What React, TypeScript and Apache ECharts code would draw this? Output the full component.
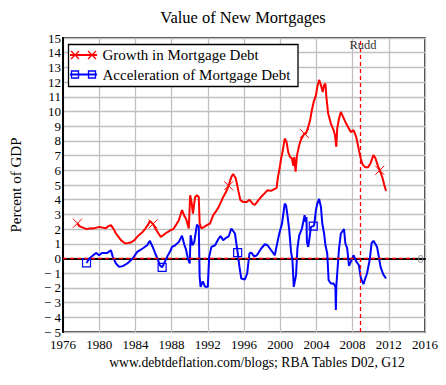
import React, { useEffect, useRef } from "react";
import * as echarts from "echarts";

const TITLE = "Value of New Mortgages";
const SOURCE = "www.debtdeflation.com/blogs; RBA Tables D02, G12";
const Y_NAME = "Percent of GDP";
const GROWTH_NAME = "Growth in Mortgage Debt";
const ACCEL_NAME = "Acceleration of Mortgage Debt";
const EVENT_LABEL = "Rudd";
const EVENT_YEAR = 2008.8;
const ZERO_LABEL = "0";
const ZERO_LINE_END = 2014.9;

const X_MIN = 1976;
const X_MAX = 2016;
const X_STEP = 4;
const Y_MIN = -5;
const Y_MAX = 15;
const Y_STEP = 1;

// [year, percent of GDP]
const growthData: [number, number][] = [
  [1977.6, 2.4], [1977.8, 2.2], [1978.2, 2.1], [1978.6, 2.0], [1979.0, 2.05], [1979.3, 2.04],
  [1979.7, 2.1], [1980.0, 2.15], [1980.4, 2.1], [1980.7, 2.05], [1981.0, 2.2], [1981.3, 2.27],
  [1981.6, 2.0], [1981.85, 1.7], [1982.1, 1.5], [1982.4, 1.25], [1982.7, 1.1], [1982.9, 1.02],
  [1983.2, 1.05], [1983.5, 1.09], [1983.9, 1.25], [1984.2, 1.47], [1984.5, 1.65], [1984.8, 1.81],
  [1985.1, 2.04], [1985.4, 2.3], [1985.6, 2.55], [1985.95, 2.35], [1986.2, 2.04], [1986.5, 1.75],
  [1986.8, 1.47], [1987.1, 1.6], [1987.3, 1.7], [1987.6, 1.81], [1987.9, 1.93], [1988.2, 2.0],
  [1988.5, 2.3], [1988.8, 2.6], [1989.15, 3.3], [1989.4, 2.9], [1989.6, 2.7], [1989.9, 2.04],
  [1990.05, 4.3], [1990.2, 3.85], [1990.36, 3.06], [1990.6, 4.19], [1990.8, 4.3], [1991.0, 4.19],
  [1991.1, 2.38], [1991.3, 2.04], [1991.6, 2.15], [1991.9, 2.27], [1992.25, 2.38], [1992.6, 2.95],
  [1992.9, 3.2], [1993.2, 3.5], [1993.5, 3.9], [1993.7, 4.19], [1994.0, 4.5], [1994.3, 4.95],
  [1994.6, 5.55], [1994.8, 5.75], [1995.1, 5.44], [1995.4, 4.53], [1995.6, 3.97], [1995.9, 3.85],
  [1996.3, 3.85], [1996.6, 4.0], [1997.0, 3.7], [1997.2, 3.65], [1997.6, 3.97], [1997.9, 4.2],
  [1998.3, 4.45], [1998.6, 4.65], [1999.0, 4.6], [1999.3, 4.7], [1999.6, 4.8], [1999.75, 5.55],
  [1999.9, 6.0], [2000.1, 6.8], [2000.3, 7.4], [2000.5, 8.16], [2000.7, 7.93], [2000.9, 7.2],
  [2001.1, 6.9], [2001.3, 6.8], [2001.45, 6.3], [2001.55, 6.9], [2001.7, 5.9], [2001.85, 7.0],
  [2002.1, 7.7], [2002.3, 8.1], [2002.5, 8.3], [2002.67, 8.5], [2002.85, 8.5], [2003.1, 8.95],
  [2003.3, 9.4], [2003.5, 10.1], [2003.7, 10.65], [2003.95, 11.1], [2004.1, 11.67], [2004.3, 12.15],
  [2004.45, 11.9], [2004.7, 11.33], [2004.85, 11.8], [2005.0, 11.9], [2005.1, 11.0], [2005.3, 9.86],
  [2005.6, 9.18], [2005.9, 8.73], [2006.05, 8.4], [2006.2, 7.6], [2006.3, 8.84], [2006.5, 9.52],
  [2006.7, 9.97], [2006.9, 9.7], [2007.2, 9.29], [2007.5, 8.95], [2007.8, 8.6], [2008.1, 8.73],
  [2008.4, 8.27], [2008.7, 7.37], [2008.9, 6.8], [2009.1, 6.4], [2009.4, 6.2], [2009.7, 6.2],
  [2010.0, 6.5], [2010.3, 7.03], [2010.5, 6.85], [2010.8, 6.3], [2011.0, 6.0], [2011.3, 5.5],
  [2011.5, 5.0], [2011.7, 4.6],
];

const accelData: [number, number][] = [
  [1978.6, -0.3], [1978.9, 0.0], [1979.3, 0.2], [1979.65, 0.38], [1980.0, 0.22], [1980.3, 0.38],
  [1980.9, 0.38], [1981.3, 0.56], [1981.5, 0.11], [1981.85, -0.34], [1982.2, -0.57], [1982.6, -0.52],
  [1983.1, -0.34], [1983.7, 0.0], [1984.2, 0.45], [1984.8, 0.68], [1985.3, 0.9], [1985.6, 1.2],
  [1985.9, 0.8], [1986.2, 0.34], [1986.5, -0.11], [1986.7, -0.46], [1986.95, -0.6], [1987.2, -0.3],
  [1987.5, 0.11], [1987.9, 0.56], [1988.05, 0.79], [1988.4, 0.9], [1988.8, 1.13], [1989.15, 1.55],
  [1989.4, 0.95], [1989.6, 0.6], [1989.8, 0.0], [1990.0, -0.34], [1990.1, 1.58], [1990.3, 0.9],
  [1990.5, 1.1], [1990.8, 2.3], [1991.0, 2.2], [1991.1, -1.25], [1991.2, -1.93], [1991.45, -1.55],
  [1991.7, -1.93], [1992.0, -1.93], [1992.15, 0.11], [1992.4, 0.79], [1992.8, 0.9], [1993.2, 1.36],
  [1993.4, 1.52], [1993.7, 1.25], [1994.0, 1.4], [1994.3, 1.5], [1994.6, 2.04], [1995.0, 1.7],
  [1995.3, 0.4], [1995.5, -0.57], [1995.7, -1.36], [1996.1, -1.43], [1996.35, -1.02], [1996.6, 0.34],
  [1996.8, 0.4], [1997.1, 0.16], [1997.4, 0.2], [1997.9, 0.68], [1998.3, 0.97], [1998.6, 0.9],
  [1999.0, 0.56], [1999.4, 0.22], [1999.7, 1.13], [1999.9, 1.7], [2000.2, 2.38], [2000.5, 3.74],
  [2000.65, 3.6], [2000.8, 2.95], [2001.0, 1.93], [2001.2, 0.45], [2001.35, -0.11], [2001.5, -1.93],
  [2001.75, -1.13], [2001.9, 0.68], [2002.1, 1.58], [2002.4, 2.04], [2002.7, 2.95], [2002.8, 2.49],
  [2002.9, 2.83], [2002.95, 1.13], [2003.1, 0.79], [2003.4, 2.15], [2003.65, 2.2], [2003.75, 2.27],
  [2003.95, 3.29], [2004.1, 3.74], [2004.3, 4.05], [2004.5, 3.51], [2004.65, 2.38], [2004.85, 1.7],
  [2005.0, 0.9], [2005.2, 0.34], [2005.35, -1.48], [2005.6, -1.7], [2005.9, -1.7], [2006.1, -1.93],
  [2006.15, -3.5], [2006.2, -1.9], [2006.3, -1.02], [2006.5, 0.68], [2006.7, 1.7], [2007.05, 2.0],
  [2007.2, 1.02], [2007.4, 0.7], [2007.6, -0.5], [2007.8, -0.23], [2008.0, 0.05], [2008.1, 0.22],
  [2008.4, -0.2], [2008.7, -0.46], [2008.9, -1.3], [2009.2, -1.75], [2009.4, -1.36], [2009.6, -1.0],
  [2009.9, -0.05], [2010.1, 1.05], [2010.3, 1.2], [2010.5, 1.0], [2010.7, 0.79], [2010.9, 0.1],
  [2011.1, -0.6], [2011.4, -1.1], [2011.7, -1.36],
];

const growthMarkerYears = [1977.6, 1985.95, 1994.3, 2002.67, 2011.0];
const accelMarkerYears = [1978.6, 1986.95, 1995.3, 2003.65];

const FONT = "Liberation Serif";
const RED = "#ff0000";
const BLUE = "#0000ff";
const CROSS = "path://M0,0L10,10M10,0L0,10";

export default function App() {
  const ref = useRef<HTMLDivElement>(null);

  useEffect(() => {
    document.body.style.margin = "0";
    if (!ref.current) return;
    const chart = echarts.init(ref.current, undefined, { renderer: "svg" });

    const LZ = 100;

    chart.setOption({
      animation: false,
      backgroundColor: "#ffffff",
      textStyle: { fontFamily: FONT },
      grid: {
        left: 60,
        right: 21,
        top: 38,
        bottom: 53,
        show: true,
        borderColor: "#000",
        borderWidth: 1.5,
        backgroundColor: "transparent",
      },
      xAxis: {
        type: "value",
        min: X_MIN,
        max: X_MAX,
        interval: X_STEP,
        axisLine: { show: true, lineStyle: { color: "#000", width: 2 } },
        axisTick: { show: false },
        axisLabel: {
          color: "#000",
          fontFamily: FONT,
          fontSize: 13,
          margin: 6,
          formatter: (v: number) => String(v),
        },
        splitLine: { show: true, lineStyle: { color: "#c0c0c0", width: 1.3 } },
      },
      yAxis: {
        type: "value",
        min: Y_MIN,
        max: Y_MAX,
        interval: Y_STEP,
        name: Y_NAME,
        nameLocation: "middle",
        nameGap: 40,
        nameTextStyle: { color: "#000", fontFamily: FONT, fontSize: 15 },
        axisLine: { show: true, lineStyle: { color: "#000", width: 2 } },
        axisTick: { show: false },
        axisLabel: {
          color: "#000",
          fontFamily: FONT,
          fontSize: 13,
          margin: 2,
          formatter: (v: number) => (v < 0 ? "\u2212 " + Math.abs(v) : String(v)),
        },
        splitLine: { show: true, lineStyle: { color: "#c0c0c0", width: 1.3 } },
      },
      series: [
        {
          name: GROWTH_NAME,
          type: "line",
          data: growthData,
          showSymbol: true,
          showAllSymbol: true,
          symbol: CROSS,
          symbolSize: (v: number[]) => (growthMarkerYears.includes(v[0]) ? 9 : 0),
          itemStyle: { color: "rgba(0,0,0,0)", borderColor: RED, borderWidth: 1 },
          lineStyle: { color: RED, width: 2 },
          z: 3,
        },
        {
          name: ACCEL_NAME,
          type: "line",
          data: accelData,
          showSymbol: true,
          showAllSymbol: true,
          symbol: "rect",
          symbolSize: (v: number[]) => (accelMarkerYears.includes(v[0]) ? 8 : 0),
          itemStyle: { color: "rgba(0,0,0,0)", borderColor: BLUE, borderWidth: 1.2 },
          lineStyle: { color: BLUE, width: 2 },
          z: 3,
          markLine: {
            silent: true,
            symbol: ["none", "none"],
            label: { show: false },
            lineStyle: { color: RED, type: [4, 3], width: 1.3 },
            data: [
              [{ coord: [X_MIN, 0] }, { coord: [ZERO_LINE_END, 0] }],
              [{ coord: [EVENT_YEAR, Y_MIN] }, { coord: [EVENT_YEAR, Y_MAX] }],
            ],
          },
          markPoint: {
            silent: true,
            symbol: "circle",
            symbolSize: 0,
            data: [
              {
                coord: [EVENT_YEAR + 0.35, 14.5],
                label: {
                  show: true,
                  position: "inside",
                  formatter: EVENT_LABEL,
                  color: "#333",
                  fontFamily: FONT,
                  fontSize: 12.5,
                },
              },
              {
                coord: [ZERO_LINE_END + 0.6, 0],
                label: {
                  show: true,
                  position: "inside",
                  formatter: ZERO_LABEL,
                  color: "#888",
                  fontFamily: FONT,
                  fontSize: 12,
                },
              },
            ],
          },
        },
      ],
      graphic: [
        {
          type: "text",
          x: 243,
          y: 17,
          style: {
            text: TITLE,
            fontFamily: FONT,
            fontSize: 16.5,
            fill: "#000",
            align: "center",
            verticalAlign: "middle",
          },
        },
        {
          type: "text",
          x: 257,
          y: 362,
          style: {
            text: SOURCE,
            fontFamily: FONT,
            fontSize: 13.7,
            fill: "#000",
            align: "center",
            verticalAlign: "middle",
          },
        },
        {
          type: "rect",
          z: LZ,
          shape: { x: 68.5, y: 44.5, width: 229.5, height: 42 },
          style: { fill: "#fff", stroke: "#000", lineWidth: 1.3 },
        },
        {
          type: "line",
          z: LZ + 1,
          shape: { x1: 70, y1: 55, x2: 97, y2: 55 },
          style: { stroke: RED, lineWidth: 2 },
        },
        ...[75, 92].map((cx) => ({
          type: "polyline",
          z: LZ + 1,
          shape: { points: [[cx - 4, 51], [cx + 4, 59]] },
          style: { stroke: RED, lineWidth: 1.2, fill: null },
        })),
        ...[75, 92].map((cx) => ({
          type: "polyline",
          z: LZ + 1,
          shape: { points: [[cx + 4, 51], [cx - 4, 59]] },
          style: { stroke: RED, lineWidth: 1.2, fill: null },
        })),
        {
          type: "text",
          z: LZ + 1,
          x: 102.5,
          y: 55,
          style: {
            text: GROWTH_NAME,
            fontFamily: FONT,
            fontSize: 15,
            fill: "#000",
            verticalAlign: "middle",
          },
        },
        {
          type: "line",
          z: LZ + 1,
          shape: { x1: 70, y1: 74.5, x2: 97, y2: 74.5 },
          style: { stroke: BLUE, lineWidth: 2 },
        },
        ...[75, 92].map((cx) => ({
          type: "rect",
          z: LZ + 1,
          shape: { x: cx - 3.5, y: 71, width: 7, height: 7 },
          style: { stroke: BLUE, lineWidth: 1.3, fill: null },
        })),
        {
          type: "text",
          z: LZ + 1,
          x: 102.5,
          y: 74.5,
          style: {
            text: ACCEL_NAME,
            fontFamily: FONT,
            fontSize: 15,
            fill: "#000",
            verticalAlign: "middle",
          },
        },
      ],
    });

    return () => chart.dispose();
  }, []);

  return <div ref={ref} style={{ width: 446, height: 385 }} />;
}
